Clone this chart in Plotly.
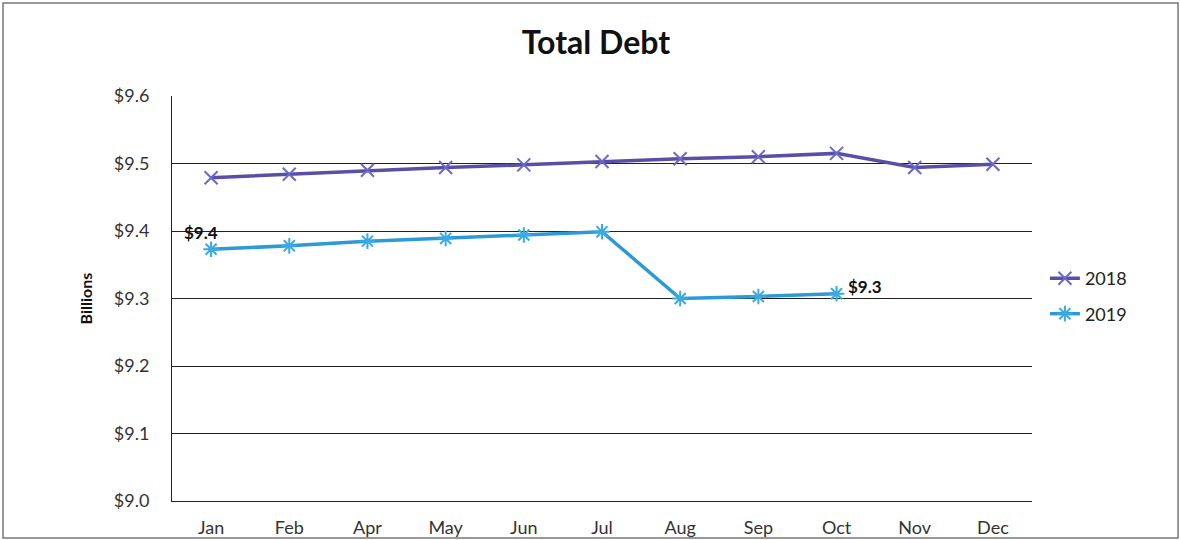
import plotly.graph_objects as go

months = ["Jan", "Feb", "Apr", "May", "Jun", "Jul", "Aug", "Sep", "Oct", "Nov", "Dec"]
debt_2018 = [9.479, 9.484, 9.490, 9.494, 9.498, 9.503, 9.507, 9.510, 9.515, 9.494, 9.499]
debt_2019 = [9.373, 9.378, 9.385, 9.389, 9.394, 9.399, 9.300, 9.303, 9.307]
y_ticks = [9.0, 9.1, 9.2, 9.3, 9.4, 9.5, 9.6]
y_tick_labels = ["$9.0", "$9.1", "$9.2", "$9.3", "$9.4", "$9.5", "$9.6"]

FONT = "Lato, Open Sans, sans-serif"

fig = go.Figure()
fig.add_trace(go.Scatter(
    x=months, y=debt_2018, name="2018", mode="lines+markers", legendgroup="a",
    line=dict(color="#5a4fa6", width=3.5),
    marker=dict(symbol="x-thin", size=13, line=dict(color="#6b68cc", width=2)),
))
fig.add_trace(go.Scatter(
    x=months[:len(debt_2019)], y=debt_2019, name="2019", mode="lines+markers", legendgroup="b",
    line=dict(color="#2b9ad6", width=3.5),
    marker=dict(symbol="asterisk", size=13, line=dict(color="#3aaae2", width=2)),
))

fig.add_annotation(x=months[0], y=debt_2019[0], text="<b>$%.1f</b>" % debt_2019[0],
                   showarrow=False, xshift=-10, yshift=17,
                   font=dict(family=FONT, size=17, color="#111"))
fig.add_annotation(x=months[len(debt_2019) - 1], y=debt_2019[-1], text="<b>$%.1f</b>" % debt_2019[-1],
                   showarrow=False, xanchor="left", xshift=9, yshift=7,
                   font=dict(family=FONT, size=17, color="#111"))

# outer chart frame
fig.add_shape(type="rect", xref="paper", yref="paper", x0=-0.1965, x1=1.1698, y0=-0.0914, y1=1.2296,
              line=dict(color="#777", width=1.5), fillcolor="rgba(0,0,0,0)", layer="below")

fig.update_layout(
    width=1180, height=540,
    margin=dict(l=172, r=148, t=96, b=39, autoexpand=False),
    paper_bgcolor="white", plot_bgcolor="white",
    title=dict(text="<b>Total Debt</b>", x=0.505, xanchor="center", y=0.92, yanchor="middle",
               font=dict(family=FONT, size=32, color="#111")),
    showlegend=True,
    legend=dict(x=1.015, y=0.506, xanchor="left", yanchor="middle",
                font=dict(family=FONT, size=18, color="#222"), tracegroupgap=9,
                bgcolor="rgba(0,0,0,0)"),
    font=dict(family=FONT),
)
fig.update_xaxes(
    type="category", categoryorder="array", categoryarray=months,
    range=[-0.5, len(months) - 0.5], automargin=False,
    showline=True, linecolor="#222", linewidth=1, showgrid=False,
    ticks="", ticklabelstandoff=10, tickfont=dict(family=FONT, size=18, color="#333"),
)
fig.update_yaxes(
    range=[9.0, 9.6], tickvals=y_ticks, ticktext=y_tick_labels, automargin=False,
    showline=True, linecolor="#222", linewidth=1,
    showgrid=True, gridcolor="#222", gridwidth=1, zeroline=False,
    ticks="", ticklen=0, ticklabelstandoff=18, tickfont=dict(family=FONT, size=18, color="#333"),
    title=dict(text="<b>Billions</b>", font=dict(family=FONT, size=16, color="#111"), standoff=17),
)

fig.write_html("out.html", config={"displayModeBar": False},
               post_script="document.body.style.margin='0';document.body.style.overflow='hidden';")
